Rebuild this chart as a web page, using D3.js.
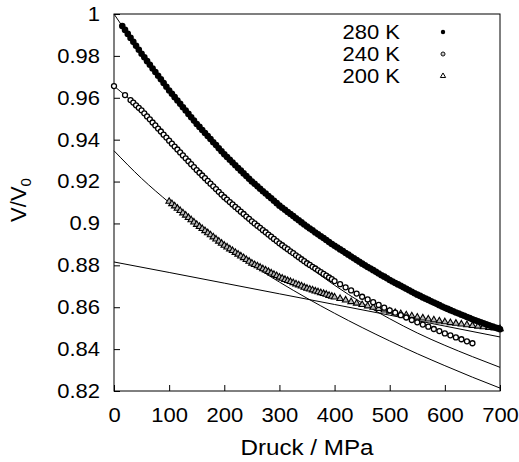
<!DOCTYPE html>
<html>
<head>
<meta charset="utf-8">
<script src="https://cdn.jsdelivr.net/npm/d3@7"></script>
<style>
    body { margin: 0; background: #fff; }
    svg text { font-family: "Liberation Sans", Arial, sans-serif; fill: #000; }
    .wide { transform-box: fill-box; transform: scaleX(1.1); }
    .wide-end { transform-origin: right; }
    .wide-mid { transform-origin: center; }
</style>
</head>
<body>
<div id="app"></div>
<script>
// Measured points (pressure in MPa, relative volume V/V0)
const pressure280 = [15,20,25,30,35,40,45,50,55,60,65,70,75,80,85,90,95,100,
    105,110,115,120,125,130,135,140,145,150,155,160,165,170,175,180,185,190,195,200,
    205,210,215,220,225,230,235,240,245,250,255,260,265,270,275,280,285,290,295,300,
    305,310,315,320,325,330,335,340,345,350,355,360,365,370,375,380,385,390,395,400,
    405,410,415,420,425,430,435,440,445,450,455,460,465,470,475,480,485,490,495,500,
    505,510,515,520,525,530,535,540,545,550,555,560,565,570,575,580,585,590,595,600,
    605,610,615,620,625,630,635,640,645,650,655,660,665,670,675,680,685,690,695,700];
const volume280 = [0.9943,0.9924,0.9905,0.9886,0.9867,0.9848,0.9829,0.9810,0.9793,0.9775,0.9758,0.9740,0.9723,0.9705,0.9688,0.9670,0.9653,0.9635,
    0.9619,0.9603,0.9587,0.9571,0.9555,0.9539,0.9523,0.9507,0.9491,0.9475,0.9461,0.9446,0.9432,0.9417,0.9403,0.9388,0.9374,0.9359,0.9345,0.9330,
    0.9317,0.9304,0.9291,0.9278,0.9265,0.9252,0.9239,0.9226,0.9213,0.9200,0.9189,0.9177,0.9166,0.9154,0.9143,0.9131,0.9120,0.9108,0.9097,0.9085,
    0.9075,0.9065,0.9055,0.9045,0.9035,0.9025,0.9015,0.9005,0.8995,0.8985,0.8976,0.8967,0.8957,0.8948,0.8939,0.8930,0.8921,0.8911,0.8902,0.8893,
    0.8885,0.8876,0.8868,0.8859,0.8851,0.8842,0.8834,0.8825,0.8817,0.8808,0.8800,0.8792,0.8785,0.8777,0.8769,0.8761,0.8753,0.8746,0.8738,0.8730,
    0.8723,0.8716,0.8709,0.8702,0.8695,0.8688,0.8681,0.8674,0.8667,0.8660,0.8654,0.8647,0.8641,0.8635,0.8628,0.8622,0.8616,0.8610,0.8603,0.8597,
    0.8592,0.8586,0.8581,0.8575,0.8570,0.8564,0.8559,0.8553,0.8548,0.8542,0.8537,0.8533,0.8528,0.8523,0.8519,0.8514,0.8509,0.8504,0.8500,0.8495];

const pressure240 = [0,20,30,35,40,45,50,55,60,65,70,75,80,85,90,95,100,
    105,110,115,120,125,130,135,140,145,150,155,160,165,170,175,180,185,190,195,200,
    205,210,215,220,225,230,235,240,245,250,255,260,265,270,275,280,285,290,295,300,
    305,310,315,320,325,330,335,340,345,350,355,360,365,370,375,380,385,390,395,400,
    410,420,430,440,450,460,470,480,490,500,510,520,530,540,550,560,570,580,590,600,
    610,620,630,640,650];
const volume240 = [0.9656,0.9613,0.9589,0.9577,0.9564,0.9552,0.9540,0.9526,0.9511,0.9497,0.9482,0.9468,0.9453,0.9439,0.9424,0.9410,0.9395,
    0.9381,0.9367,0.9353,0.9339,0.9325,0.9311,0.9297,0.9283,0.9269,0.9255,0.9242,0.9229,0.9216,0.9203,0.9190,0.9177,0.9164,0.9151,0.9138,0.9125,
    0.9114,0.9102,0.9091,0.9079,0.9068,0.9056,0.9045,0.9033,0.9022,0.9010,0.9000,0.8989,0.8979,0.8968,0.8958,0.8947,0.8937,0.8926,0.8916,0.8905,
    0.8896,0.8886,0.8877,0.8867,0.8858,0.8848,0.8839,0.8829,0.8820,0.8810,0.8802,0.8793,0.8785,0.8776,0.8768,0.8759,0.8751,0.8742,0.8734,0.8725,
    0.8710,0.8695,0.8680,0.8665,0.8650,0.8637,0.8624,0.8611,0.8598,0.8585,0.8574,0.8562,0.8551,0.8539,0.8528,0.8517,0.8507,0.8496,0.8486,0.8475,
    0.8466,0.8456,0.8447,0.8437,0.8428];

const pressure200 = [100,105,110,115,120,125,130,135,140,145,150,155,160,165,170,175,180,185,190,195,200,
    205,210,215,220,225,230,235,240,245,250,255,260,265,270,275,280,285,290,295,300,
    305,310,315,320,325,330,335,340,345,350,355,360,365,370,375,380,385,390,395,400,
    410,420,430,440,450,460,470,480,490,500,510,520,530,540,550,560,570,580,590,600,
    610,620,630,640,650,660,670,680,690,700];
const volume200 = [0.9105,0.9094,0.9083,0.9072,0.9061,0.9050,0.9039,0.9028,0.9017,0.9006,0.8995,0.8985,0.8975,0.8965,0.8955,0.8945,0.8935,0.8925,0.8915,0.8905,0.8895,
    0.8887,0.8878,0.8870,0.8861,0.8853,0.8844,0.8836,0.8827,0.8819,0.8810,0.8803,0.8797,0.8790,0.8783,0.8777,0.8770,0.8763,0.8756,0.8750,0.8743,
    0.8738,0.8732,0.8727,0.8722,0.8717,0.8711,0.8706,0.8701,0.8695,0.8690,0.8686,0.8682,0.8677,0.8673,0.8669,0.8665,0.8661,0.8656,0.8652,0.8648,
    0.8641,0.8634,0.8626,0.8619,0.8612,0.8606,0.8599,0.8593,0.8586,0.8580,0.8574,0.8569,0.8563,0.8558,0.8552,0.8548,0.8543,0.8539,0.8534,0.8530,
    0.8526,0.8523,0.8519,0.8516,0.8512,0.8509,0.8506,0.8503,0.8500,0.8497];

// Fit curves
const fitPressure = [0,50,100,150,200,250,300,350,400,450,500,550,600,650,700];
const fit280 = [1.0000,0.9810,0.9635,0.9475,0.9330,0.9200,0.9085,0.8985,0.8893,0.8808,0.8730,0.8660,0.8597,0.8542,0.8495];
const fit240 = [0.9656,0.9540,0.9395,0.9255,0.9125,0.9010,0.8903,0.8800,0.8705,0.8620,0.8545,0.8477,0.8418,0.8364,0.8313];
const fit200 = [0.9347,0.9215,0.9100,0.8993,0.8893,0.8803,0.8720,0.8643,0.8571,0.8503,0.8439,0.8378,0.8321,0.8266,0.8214];
const glassPressure = [0,100,200,300,400,500,600,700];
const fitGlass = [0.8816,0.8766,0.8715,0.8664,0.8613,0.8562,0.8510,0.8458];

const seriesNames = ["280 K", "240 K", "200 K"];
const xTicks = [0,100,200,300,400,500,600,700];
const yTicks = [0.82,0.84,0.86,0.88,0.9,0.92,0.94,0.96,0.98,1];
const yTickLabels = ["0.82","0.84","0.86","0.88","0.9","0.92","0.94","0.96","0.98","1"];

function plotChart() {
    const svgWidth = 519;
    const svgHeight = 462;
    const margin = { top: 14, right: 19, bottom: 71, left: 114 };
    const width = svgWidth - margin.left - margin.right;
    const height = svgHeight - margin.top - margin.bottom;

    const svg = d3.select("#app").append("svg")
        .attr("width", svgWidth)
        .attr("height", svgHeight);

    const xScale = d3.scaleLinear().domain([0, 700]).range([0, width]);
    const yScale = d3.scaleLinear().domain([0.82, 1]).range([height, 0]);

    const chart = svg.append("g")
        .attr("transform", "translate(" + margin.left + "," + margin.top + ")");

    // axes, ticks pointing inward
    const xAxis = chart.append("g")
        .attr("transform", "translate(0," + height + ")")
        .call(d3.axisBottom(xScale).tickValues(xTicks).tickSize(-6).tickPadding(17));
    const yAxis = chart.append("g")
        .call(d3.axisLeft(yScale).tickValues(yTicks).tickSize(-6).tickPadding(14)
            .tickFormat(function(d, i) { return yTickLabels[i]; }));
    [xAxis, yAxis].forEach(function(a) {
        a.select(".domain").remove();
        a.selectAll("line").attr("stroke", "#000").attr("stroke-width", 1);
        a.selectAll("text").attr("font-size", 20)
            .attr("font-family", "Liberation Sans, Arial, sans-serif")
            .classed("wide", true);
    });
    xAxis.selectAll("text").classed("wide-mid", true);
    yAxis.selectAll("text").classed("wide-end", true);

    chart.append("rect")
        .attr("x", 0).attr("y", 0)
        .attr("width", width).attr("height", height)
        .attr("fill", "none")
        .attr("stroke", "#000")
        .attr("stroke-width", 1);

    // fit lines
    const line = d3.line()
        .x(function(d) { return xScale(d[0]); })
        .y(function(d) { return yScale(d[1]); })
        .curve(d3.curveMonotoneX);
    const fits = [
        d3.zip(fitPressure, fit280),
        d3.zip(fitPressure, fit240),
        d3.zip(fitPressure, fit200),
        d3.zip(glassPressure, fitGlass)
    ];
    chart.selectAll(".fit")
        .data(fits)
        .enter()
            .append("path")
            .classed("fit", true)
            .attr("d", line)
            .attr("fill", "none")
            .attr("stroke", "#000")
            .attr("stroke-width", 1);

    // 200 K triangles
    const tri = d3.symbol().type(d3.symbolTriangle).size(18);
    chart.selectAll(".pt200")
        .data(d3.zip(pressure200, volume200))
        .enter()
            .append("path")
            .classed("pt200", true)
            .attr("d", tri)
            .attr("transform", function(d) {
                return "translate(" + xScale(d[0]) + "," + yScale(d[1]) + ")";
            })
            .attr("fill", "#bbb")
            .attr("stroke", "#000")
            .attr("stroke-width", 1.1);

    // 240 K open circles
    chart.selectAll(".pt240")
        .data(d3.zip(pressure240, volume240))
        .enter()
            .append("circle")
            .classed("pt240", true)
            .attr("cx", function(d) { return xScale(d[0]); })
            .attr("cy", function(d) { return yScale(d[1]); })
            .attr("r", 2.5)
            .attr("fill", "#fff")
            .attr("stroke", "#000")
            .attr("stroke-width", 1.3);

    // 280 K filled dots
    chart.selectAll(".pt280")
        .data(d3.zip(pressure280, volume280))
        .enter()
            .append("circle")
            .classed("pt280", true)
            .attr("cx", function(d) { return xScale(d[0]); })
            .attr("cy", function(d) { return yScale(d[1]); })
            .attr("r", 3.3)
            .attr("fill", "#000");

    // legend
    const legend = chart.append("g").attr("transform", "translate(286,25)");
    legend.selectAll("text")
        .data(seriesNames)
        .enter()
            .append("text")
            .classed("wide", true)
            .classed("wide-end", true)
            .attr("x", 0)
            .attr("y", function(d, i) { return i * 22; })
            .attr("text-anchor", "end")
            .attr("font-size", 20)
            .text(function(d) { return d; });
    legend.append("circle").attr("cx", 43).attr("cy", -7).attr("r", 2.2).attr("fill", "#000");
    legend.append("circle").attr("cx", 43).attr("cy", 15).attr("r", 2)
        .attr("fill", "#fff").attr("stroke", "#000").attr("stroke-width", 1);
    legend.append("circle").attr("cx", 43).attr("cy", 15).attr("r", 0.6).attr("fill", "#000");
    legend.append("path").attr("d", d3.symbol().type(d3.symbolTriangle).size(12))
        .attr("transform", "translate(43,37)")
        .attr("fill", "#fff").attr("stroke", "#000").attr("stroke-width", 1);

    // axis titles
    svg.append("text")
        .classed("wide", true)
        .classed("wide-mid", true)
        .attr("x", margin.left + width / 2)
        .attr("y", 455)
        .attr("text-anchor", "middle")
        .attr("font-size", 22)
        .text("Druck / MPa");

    const yTitle = svg.append("text")
        .attr("transform", "translate(26,200) rotate(-90)")
        .attr("text-anchor", "middle")
        .attr("font-size", 22);
    yTitle.append("tspan").text("V/V");
    yTitle.append("tspan").attr("font-size", 15).attr("dy", 5).text("0");
}

plotChart();
</script>
</body>
</html>
